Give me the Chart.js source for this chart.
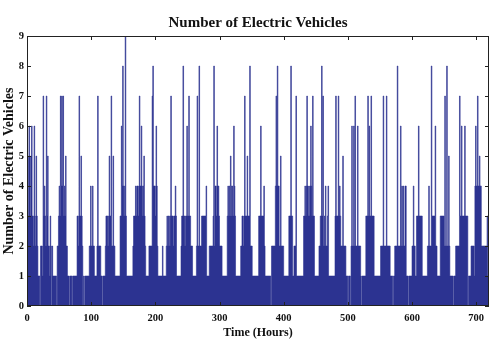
<!DOCTYPE html>
<html>
<head>
<meta charset="utf-8">
<script src="https://cdn.jsdelivr.net/npm/chart.js@4"></script>
<style>
  body { margin: 0; background: #fff; }
  #wrap { width: 503px; height: 352px; }
</style>
</head>
<body>
<div id="wrap"><canvas id="evChart"></canvas></div>
<script>
// Hourly number of electric vehicles, one row per day (30 days = 720 hours)
const evCounts = [
  5,4,5,3,6,5,3,5,6,3,3,2,6,3,2,5,3,2,1,1,1,0,2,2,
  2,1,7,3,4,3,2,7,3,5,2,2,1,3,2,0,2,1,1,1,1,1,1,0,
  2,2,3,4,3,7,4,7,4,7,3,4,3,5,2,2,1,1,1,0,1,1,1,0,
  1,1,1,1,1,1,1,3,3,2,7,3,3,5,3,2,0,1,0,1,1,1,1,1,
  1,1,2,2,4,2,2,4,2,2,1,1,1,1,2,7,2,2,2,2,1,1,0,1,
  1,1,1,2,3,3,3,2,3,5,3,3,7,2,2,5,2,2,1,1,1,1,1,1,
  1,1,3,3,6,4,8,4,3,4,9,3,1,1,1,1,1,1,1,1,1,1,2,3,
  3,3,4,3,4,4,3,4,7,4,4,6,4,3,4,5,3,2,1,1,1,1,1,2,
  2,2,2,2,7,8,4,4,4,3,6,4,2,1,1,1,1,1,1,1,2,1,1,1,
  1,1,2,3,2,3,3,2,3,7,3,3,3,2,3,3,4,3,1,1,1,1,1,1,
  1,2,3,3,8,3,3,2,3,3,6,3,3,7,3,3,2,2,2,1,1,1,1,1,
  1,2,7,2,2,8,2,2,2,3,3,3,3,3,3,3,4,1,1,1,1,2,2,2,
  2,2,2,3,8,2,4,4,3,6,4,4,3,2,2,2,2,1,1,1,1,1,1,1,
  1,3,4,3,4,3,5,4,3,4,3,6,4,3,1,1,1,1,1,1,1,1,2,2,
  3,3,2,3,7,3,3,3,5,3,3,3,8,2,2,2,1,1,1,1,1,1,1,1,
  1,1,3,3,3,6,3,3,3,3,4,2,1,1,1,1,1,1,1,1,1,0,2,2,
  2,2,2,2,4,7,4,8,4,4,2,2,5,2,2,2,2,1,1,1,1,1,1,1,
  1,3,3,3,8,3,3,1,1,2,2,2,7,1,1,1,1,1,1,1,1,1,1,1,
  3,3,4,3,4,7,4,3,4,3,4,6,4,3,7,3,3,1,1,1,1,1,1,1,
  2,2,3,3,8,3,7,2,3,2,4,2,2,3,4,1,1,1,1,1,1,1,1,1,
  1,3,7,3,3,3,7,3,4,3,2,2,2,5,2,2,2,2,1,1,1,0,1,1,
  1,0,2,6,2,2,6,2,7,2,2,2,6,2,2,2,2,1,0,1,1,1,1,1,
  1,3,3,3,7,3,6,3,3,7,3,3,3,3,1,1,1,1,1,1,1,1,1,1,
  2,2,2,2,7,2,2,2,2,7,2,2,2,2,2,1,1,1,1,0,1,1,2,2,
  2,2,8,2,2,2,2,6,2,4,2,4,2,2,4,4,1,1,1,0,1,1,1,1,
  1,2,2,4,2,2,1,1,3,3,3,6,3,3,3,3,3,1,1,1,1,1,1,1,
  1,2,2,4,2,2,2,8,3,3,3,3,3,6,2,2,1,1,1,1,1,3,3,3,
  3,3,3,2,7,2,2,8,2,2,5,2,1,1,1,1,1,0,1,1,1,2,2,2,
  2,2,2,7,3,3,6,3,3,3,3,6,3,3,3,3,0,1,1,1,1,2,2,2,
  2,2,1,4,6,4,4,7,4,4,5,4,4,2,2,2,2,2,2,2,2,2,3,1
];

const totalHours = 720;
const xTickValues = [0, 100, 200, 300, 400, 500, 600, 700];
const yTickValues = [0, 1, 2, 3, 4, 5, 6, 7, 8, 9];

const titleText = 'Number of Electric Vehicles';
const xTitle = 'Time (Hours)';
const yTitle = 'Number of Electric Vehicles';

const blue = '#2c3391';
const serif = "'Liberation Serif', 'DejaVu Serif', serif";

// points for a stairs plot, plus one closing point at the end
const points = evCounts.map((v, i) => ({ x: i, y: v }));
points.push({ x: totalHours, y: evCounts[evCounts.length - 1] });

// draws the axes box and the inward tick marks (matlab style)
const boxPlugin = {
  id: 'box',
  afterDatasetsDraw(chart) {
    const { ctx, chartArea: a, scales } = chart;
    ctx.save();
    ctx.strokeStyle = '#222';
    ctx.lineWidth = 1;
    ctx.strokeRect(a.left + 0.5, a.top + 0.5, a.right - a.left - 1, a.bottom - a.top - 1);
    ctx.beginPath();
    scales.x.ticks.forEach(t => {
      const px = Math.round(scales.x.getPixelForValue(t.value)) + 0.5;
      ctx.moveTo(px, a.bottom); ctx.lineTo(px, a.bottom - 4);
      ctx.moveTo(px, a.top); ctx.lineTo(px, a.top + 4);
    });
    scales.y.ticks.forEach(t => {
      const py = Math.round(scales.y.getPixelForValue(t.value)) + 0.5;
      ctx.moveTo(a.left, py); ctx.lineTo(a.left + 4, py);
      ctx.moveTo(a.right, py); ctx.lineTo(a.right - 4, py);
    });
    ctx.stroke();
    ctx.restore();
  }
};

const ctx = document.getElementById('evChart').getContext('2d');
const evChart = new Chart(ctx, {
  type: 'line',
  data: {
    datasets: [{
      data: points,
      stepped: 'after',
      fill: 'origin',
      backgroundColor: blue,
      borderColor: blue,
      borderWidth: 0.6,
      pointRadius: 0
    }]
  },
  options: {
    responsive: true,
    maintainAspectRatio: false,
    animation: false,
    layout: { padding: { left: 0, right: 14, top: 0, bottom: 0 } },
    plugins: {
      legend: { display: false },
      tooltip: { enabled: false },
      title: {
        display: true,
        fullSize: false,
        text: titleText,
        color: '#111',
        font: { family: serif, size: 15, weight: 'bold', lineHeight: 1 },
        padding: { top: 16, bottom: 5 }
      }
    },
    scales: {
      x: {
        type: 'linear',
        min: 0,
        max: totalHours,
        grid: { display: false, drawTicks: false },
        border: { display: false },
        afterBuildTicks(scale) {
          scale.ticks = xTickValues.map(v => ({ value: v }));
        },
        afterFit(scale) { scale.height = 46; },
        ticks: {
          maxRotation: 0,
          autoSkip: false,
          padding: 6,
          color: '#111',
          font: { family: serif, size: 10.5, weight: 'bold' }
        },
        title: {
          display: true,
          text: xTitle,
          color: '#111',
          font: { family: serif, size: 12, weight: 'bold', lineHeight: 1.2 },
          padding: { top: 0, bottom: 12 }
        }
      },
      y: {
        min: 0,
        max: yTickValues[yTickValues.length - 1],
        grid: { display: false, drawTicks: false },
        border: { display: false },
        afterBuildTicks(scale) {
          scale.ticks = yTickValues.map(v => ({ value: v }));
        },
        afterFit(scale) { scale.width = 27; },
        ticks: {
          padding: 3,
          color: '#111',
          font: { family: serif, size: 10.5, weight: 'bold' }
        },
        title: {
          display: true,
          text: yTitle,
          color: '#111',
          font: { family: serif, size: 14, weight: 'bold', lineHeight: 1.2 },
          padding: { top: 1, bottom: 0 }
        }
      }
    }
  },
  plugins: [boxPlugin]
});
</script>
</body>
</html>
